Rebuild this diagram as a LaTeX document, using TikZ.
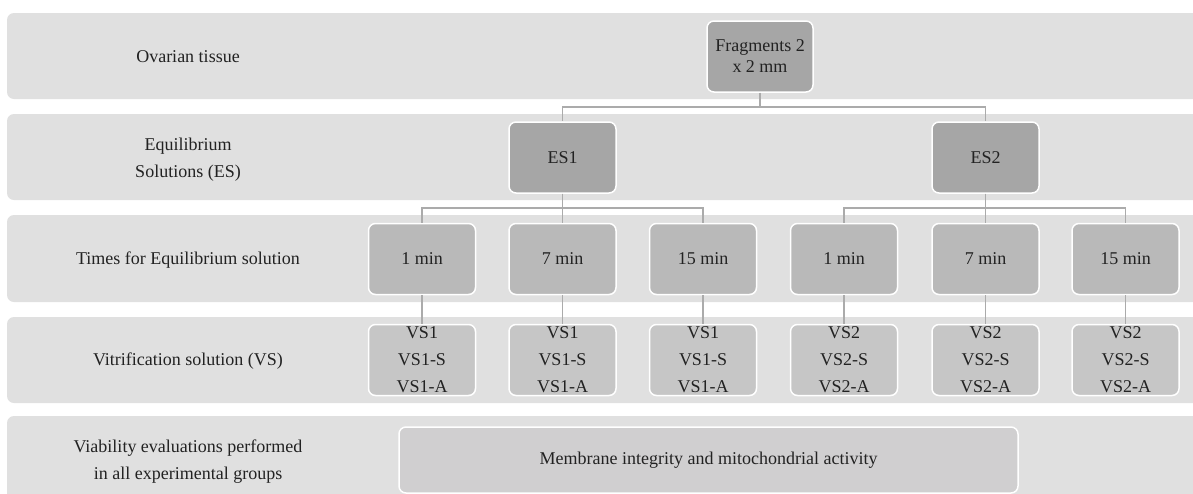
\documentclass[tikz,border=0pt]{standalone}
\usepackage{fontspec}
\setmainfont{Liberation Serif}
\definecolor{band}{HTML}{E0E0E0}
\definecolor{dark}{HTML}{A6A6A6}
\definecolor{mid}{HTML}{B9B9B9}
\definecolor{light}{HTML}{C6C6C6}
\definecolor{memb}{HTML}{D0CFD0}
\definecolor{conn}{HTML}{ABABAB}
\definecolor{txt}{HTML}{222222}
\begin{document}
\begin{tikzpicture}[x=1pt,y=-1pt,
  bandbox/.style={fill=band, rounded corners=7pt},
  lbl/.style={align=center, text=txt, font=\fontsize{18}{27}\selectfont},
  box/.style={draw=white, line width=1.5pt, rounded corners=7pt, minimum width=107pt, minimum height=71pt, inner sep=0pt, align=center, text=txt, font=\fontsize{18}{27}\selectfont},
  darkbox/.style={box, fill=dark},
  timebox/.style={box, fill=mid},
  vsbox/.style={box, fill=light},
  wire/.style={draw=conn, line width=1.5pt}
]
\useasboundingbox (0,0) rectangle (1193,493);
\clip (0,0) rectangle (1193,493);
\fill[white] (0,0) rectangle (1193,493);
% bands
\path[bandbox] (7,13) rectangle (1210,99);
\path[bandbox] (7,114) rectangle (1210,200);
\path[bandbox] (7,215) rectangle (1210,302);
\path[bandbox] (7,317) rectangle (1210,403);
\path[bandbox] (7,416) rectangle (1210,510);
% row labels
\node[lbl] (l1) at (188,57) {Ovarian tissue};
\node[lbl] (l2) at (188,160) {Equilibrium\\Solutions (ES)};
\node[lbl] (l3) at (188,260) {Times for Equilibrium solution};
\node[lbl] (l4) at (188,361) {Vitrification solution (VS)};
\node[lbl] (l5) at (188,462) {Viability evaluations performed\\in all experimental groups};
% nodes
\node[darkbox, minimum width=106pt, font=\fontsize{18}{21}\selectfont] (frag) at (760,56.5) {Fragments 2\\x 2 mm};
\node[darkbox] (es1) at (562.5,157.5) {ES1};
\node[darkbox] (es2) at (985.5,157.5) {ES2};
\foreach \n/\x/\t in {t1/422/1 min, t2/562.5/7 min, t3/703/15 min, t4/844/1 min, t5/985.5/7 min, t6/1125.5/15 min}
  \node[timebox] (\n) at (\x,259) {\t};
\foreach \n/\x/\v in {v1/422/1, v2/562.5/1, v3/703/1, v4/844/2, v5/985.5/2, v6/1125.5/2}
  \node[vsbox] (\n) at (\x,360) {VS\v\\VS\v-S\\VS\v-A};
\node[box, fill=memb, minimum width=619pt, minimum height=66pt] (memb) at (708.5,460) {Membrane integrity and mitochondrial activity};
% connectors
\draw[wire] (frag.south) |- (es1.north |- 0,107) -- (es1.north);
\draw[wire] (frag.south) |- (es2.north |- 0,107) -- (es2.north);
\foreach \c in {t1,t2,t3}
  \draw[wire] (es1.south) |- (\c.north |- 0,208) -- (\c.north);
\foreach \c in {t4,t5,t6}
  \draw[wire] (es2.south) |- (\c.north |- 0,208) -- (\c.north);
\foreach \i in {1,...,6}
  \draw[wire] (t\i.south) -- (v\i.north);
\end{tikzpicture}
\end{document}
